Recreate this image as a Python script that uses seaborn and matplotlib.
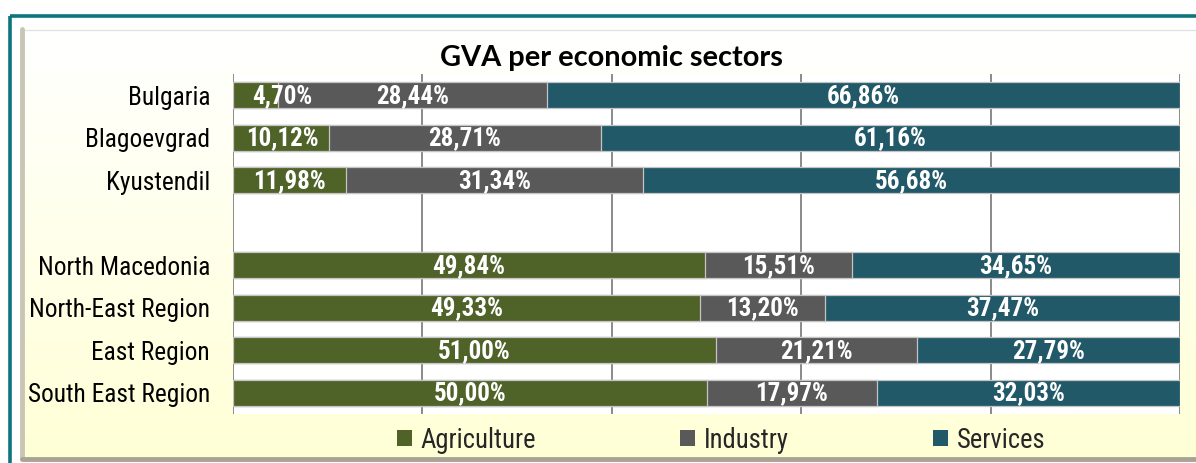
import numpy as np
import pandas as pd
import matplotlib
matplotlib.use("Agg")
import matplotlib.pyplot as plt
import matplotlib.patches as mpatches
from matplotlib import font_manager as fm
import seaborn as sns

regions = ["Bulgaria", "Blagoevgrad", "Kyustendil",
           "North Macedonia", "North-East Region", "East Region", "South East Region"]
agriculture = [4.70, 10.12, 11.98, 49.84, 49.33, 51.00, 50.00]
industry = [28.44, 28.71, 31.34, 15.51, 13.20, 21.21, 17.97]
services = [66.86, 61.16, 56.68, 34.65, 37.47, 27.79, 32.03]
sectors = ["Agriculture", "Industry", "Services"]
title = "GVA per economic sectors"

colors = {"Agriculture": "#4F6228", "Industry": "#595959", "Services": "#215968"}

sns.set_theme(style="white")

# pick a narrow sans font if available
entries = fm.fontManager.ttflist
names = {e.name for e in entries}
narrow_family, narrow_stretch = "Liberation Sans", "normal"
for cand in ["Liberation Sans Narrow", "Arial Narrow", "Roboto Condensed", "Open Sans Condensed"]:
    if cand in names:
        narrow_family, narrow_stretch = cand, "normal"
        break
else:
    if any(e.name == "DejaVu Sans" and str(e.stretch) in ("condensed", "semi-condensed")
           for e in entries):
        narrow_family, narrow_stretch = "DejaVu Sans", "condensed"
plt.rcParams["font.family"] = [narrow_family, "DejaVu Sans"]

W, H = 1196, 463
fig = plt.figure(figsize=(W / 100, H / 100), dpi=100)
fig.patch.set_facecolor("white")
renderer = fig.canvas.get_renderer()


def fit_size(text, target_px, weight="normal", family=None, stretch="normal"):
    fam = family if family is not None else [narrow_family, "DejaVu Sans"]
    t = fig.text(0, 0, text, fontsize=20, fontweight=weight, family=fam, fontstretch=stretch)
    w = t.get_window_extent(renderer).width
    t.remove()
    return 20 * target_px / w


ylab_size = fit_size("South East Region", 182, stretch=narrow_stretch)
val_size = fit_size("66,86%", 73, weight="bold", stretch=narrow_stretch)
leg_size = fit_size("Agriculture", 115, stretch=narrow_stretch)
title_size = fit_size(title, 343, weight="bold", family=["Lato", "DejaVu Sans"])

# background frame with gradient (pixel coords)
bg = fig.add_axes([0, 0, 1, 1], zorder=-10)
bg.set_xlim(0, W)
bg.set_ylim(H, 0)
bg.axis("off")
grad = np.linspace(0, 1, 256)[:, None]
top_c = np.array([1.0, 1.0, 1.0])
bot_c = np.array([255, 255, 214]) / 255
img = top_c[None, None, :] * (1 - grad[:, :, None]) + bot_c[None, None, :] * grad[:, :, None]
bg.imshow(img, extent=(22, W, 458, 29), aspect="auto", zorder=1)
bg.add_patch(mpatches.Rectangle((9.5, 15.5), W + 20, H + 20, fill=False,
                                edgecolor="#0E757D", linewidth=2.6, zorder=3))
bg.plot([22, W], [29.5, 29.5], color="#e2e2e2", lw=1.0, zorder=2)
bg.plot([22, 22], [29, 458], color="#c9c5b5", lw=3.5, zorder=2)
bg.plot([22, W], [459, 459], color="#a8a394", lw=3.5, zorder=2)

# main axes
ax = fig.add_axes([233 / W, 1 - 414 / H, (1180 - 233) / W, (414 - 74) / H], zorder=1)
ax.set_facecolor("white")

df = pd.DataFrame({"region": regions, "Agriculture": agriculture,
                   "Industry": industry, "Services": services})
df["c1"] = df["Agriculture"]
df["c2"] = df["Agriculture"] + df["Industry"]
df["c3"] = df["c2"] + df["Services"]

order = regions[:3] + [" "] + regions[3:]
bw = 0.62
edge = dict(edgecolor="#c4c4c4", linewidth=0.9)
sns.barplot(data=df, y="region", x="c3", order=order, color=colors["Services"],
            width=bw, orient="h", ax=ax, saturation=1, **edge)
sns.barplot(data=df, y="region", x="c2", order=order, color=colors["Industry"],
            width=bw, orient="h", ax=ax, saturation=1, **edge)
sns.barplot(data=df, y="region", x="c1", order=order, color=colors["Agriculture"],
            width=bw, orient="h", ax=ax, saturation=1, **edge)

ax.set_xlim(0, 100)
ax.set_ylim(len(order) - 0.5, -0.5)
ax.set_xticks([0, 20, 40, 60, 80, 100])
ax.set_xticklabels([])
ax.xaxis.grid(True, color="#8a8a8a", linewidth=1.4)
ax.set_axisbelow(True)
ax.tick_params(axis="both", length=0)
ax.tick_params(axis="y", labelsize=ylab_size, pad=16.5)
for lab in ax.get_yticklabels():
    lab.set_color("black")
    lab.set_fontstretch(narrow_stretch)
for s in ax.spines.values():
    s.set_visible(False)
ax.set_xlabel("")
ax.set_ylabel("")


def fmt(v):
    return f"{v:.2f}".replace(".", ",") + "%"


for _, r in df.iterrows():
    y = order.index(r["region"])
    left = 0.0
    for s in sectors:
        w = r[s]
        cx = max(left + w / 2, 5.2)
        ax.text(cx, y + 0.02, fmt(w), ha="center", va="center", color="white",
                fontsize=val_size, fontweight="bold", fontstretch=narrow_stretch, zorder=5)
        left += w

# title
fig.text(611 / W, 1 - 58 / H, title, ha="center", va="center",
         fontsize=title_size, fontweight="bold", family=["Lato", "DejaVu Sans"], color="black")

# legend
handles = [mpatches.Patch(facecolor=colors[s], edgecolor="none") for s in sectors]
prop = fm.FontProperties(family=[narrow_family, "DejaVu Sans"], size=leg_size,
                         stretch=narrow_stretch)
fig.legend(handles, sectors, loc="center", bbox_to_anchor=(721 / W, 1 - 440 / H),
           ncol=3, frameon=False, prop=prop, columnspacing=145 / (leg_size / 0.72),
           handlelength=15 / (leg_size / 0.72), handleheight=15 / (leg_size / 0.72),
           handletextpad=8 / (leg_size / 0.72))

fig.savefig("out.png", dpi=100)
